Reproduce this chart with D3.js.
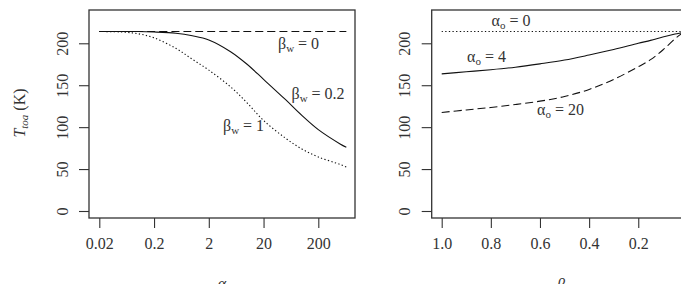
<!DOCTYPE html>
<html>

<head>
    <meta charset="UTF-8">
    <title>T_toa panels</title>
    <script src="https://cdn.jsdelivr.net/npm/d3@7"></script>
    <style>
        body { margin: 0; background: #fff; }
        text { font-family: "Liberation Serif", "Times New Roman", "DejaVu Serif", serif; fill: #333; }
    </style>
</head>

<body>
    <script>
        // left panel: T_toa vs alpha (log axis), three beta_w values
        const alpha = [0.02, 0.05, 0.1, 0.2, 0.5, 1, 2, 5, 10, 20, 50, 100, 200, 500, 650];
        const bw0 = [214, 214, 214, 214, 214, 214, 214, 214, 214, 214, 214, 214, 214, 214, 214];
        const bw02 = [214, 214, 214, 213.5, 212, 209, 204, 190, 175, 157, 133, 114, 97, 80, 76];
        const bw1 = [214, 213.5, 211.5, 206.5, 194, 181, 168, 148, 129, 108, 87, 74, 64.5, 55.5, 52.5];
        const alphaTicks = [0.02, 0.2, 2, 20, 200];

        // right panel: T_toa vs beta (reversed), three alpha_o values
        const beta = [1.0, 0.9, 0.8, 0.7, 0.6, 0.5, 0.4, 0.3, 0.2, 0.15, 0.1, 0.05, 0.025, 0];
        const ao0 = [214, 214, 214, 214, 214, 214, 214, 214, 214, 214, 214, 214, 214, 214];
        const ao4 = [163.5, 166, 168.5, 171.5, 175.5, 180, 186, 192.5, 200, 203.5, 207.5, 211, 212.5, 214];
        const ao20 = [117.5, 120.5, 123.5, 127, 131, 136.5, 145, 157, 172, 180.5, 192, 205.5, 211, 214];
        const betaTicks = [1.0, 0.8, 0.6, 0.4, 0.2, 0];

        const yTicks = [0, 50, 100, 150, 200];

        const width = 681;
        const height = 284;

        const svg = d3.select('body')
            .append('svg')
            .attr('width', width)
            .attr('height', height);

        const y = d3.scaleLinear().domain([-8.35, 239.7]).range([218, 10]);

        const xl = d3.scaleLog().domain([0.01297, 936]).range([89, 355]);
        const xr = d3.scaleLinear().domain([1.0407, -0.0407]).range([431.7, 697.4]);

        const drawPanel = (x, ticks, fmt) => {
            const [x0, x1] = x.range();
            const g = svg.append('g');

            g.append('rect')
                .attr('x', x0).attr('y', 10)
                .attr('width', x1 - x0).attr('height', 208)
                .attr('fill', 'none')
                .attr('stroke', '#333')
                .attr('stroke-width', 1.3);

            const xa = g.append('g')
                .attr('transform', 'translate(0,218)')
                .call(d3.axisBottom(x).tickValues(ticks).tickFormat(fmt).tickSize(10).tickPadding(10));
            xa.select('.domain').remove();
            xa.selectAll('line').attr('stroke', '#333').attr('stroke-width', 1.1);
            xa.selectAll('text').attr('font-size', 16).attr('fill', '#333');

            const ya = g.append('g')
                .attr('transform', `translate(${x0},0)`)
                .call(d3.axisLeft(y).tickValues(yTicks).tickSize(10));
            ya.select('.domain').remove();
            ya.selectAll('line').attr('stroke', '#333').attr('stroke-width', 1.1);
            ya.selectAll('text')
                .attr('font-size', 16).attr('fill', '#333')
                .attr('transform', 'rotate(-90)')
                .attr('x', 0).attr('y', -21.5).attr('dy', null)
                .attr('text-anchor', 'middle');

            return g;
        };

        const left = drawPanel(xl, alphaTicks, d => String(d));
        const right = drawPanel(xr, betaTicks, d3.format('.1f'));
        right.selectAll('.tick text').filter(d => d === 0).text('0');

        const series = (g, x, xs, ys, dash) => {
            const line = d3.line()
                .x((d, i) => x(xs[i]))
                .y(d => y(d))
                .curve(d3.curveCatmullRom.alpha(0.5));
            g.append('path')
                .datum(ys)
                .attr('d', line)
                .attr('fill', 'none')
                .attr('stroke', '#111')
                .attr('stroke-width', 1.1)
                .attr('stroke-dasharray', dash);
        };

        series(left, xl, alpha, bw0, '8,4');
        series(left, xl, alpha, bw02, null);
        series(left, xl, alpha, bw1, '1.3,2.3');

        series(right, xr, beta, ao0, '1.3,2.3');
        series(right, xr, beta, ao4, null);
        series(right, xr, beta, ao20, '8,4');

        // curve labels with subscripts
        const label = (g, x, yb, sym, sub, rest) => {
            const t = g.append('text')
                .attr('x', x).attr('y', yb)
                .attr('font-size', 16);
            t.append('tspan').text(sym);
            t.append('tspan').attr('font-size', 11).attr('dy', 3).text(sub);
            t.append('tspan').attr('dy', -3).text(rest);
        };

        label(left, 278, 49, 'β', 'w', ' = 0');
        label(left, 291.5, 98.5, 'β', 'w', ' = 0.2');
        label(left, 223, 131, 'β', 'w', ' = 1');

        label(right, 491.5, 26, 'α', 'o', ' = 0');
        label(right, 467, 62, 'α', 'o', ' = 4');
        label(right, 537, 115, 'α', 'o', ' = 20');

        // y axis title
        const yt = svg.append('text')
            .attr('transform', 'translate(25,113) rotate(-90)')
            .attr('text-anchor', 'middle')
            .attr('font-size', 16);
        yt.append('tspan').attr('font-style', 'italic').text('T');
        yt.append('tspan').attr('font-style', 'italic').attr('font-size', 11).attr('dy', 3).text('toa');
        yt.append('tspan').attr('dy', -3).text(' (K)');

        // x axis titles (mostly below the visible area)
        svg.append('text')
            .attr('x', 222).attr('y', 289)
            .attr('text-anchor', 'middle')
            .attr('font-size', 16)
            .attr('font-style', 'italic')
            .text('α');
        svg.append('text')
            .attr('x', 561).attr('y', 290)
            .attr('text-anchor', 'middle')
            .attr('font-size', 16)
            .attr('font-style', 'italic')
            .text('β');
    </script>
</body>

</html>
